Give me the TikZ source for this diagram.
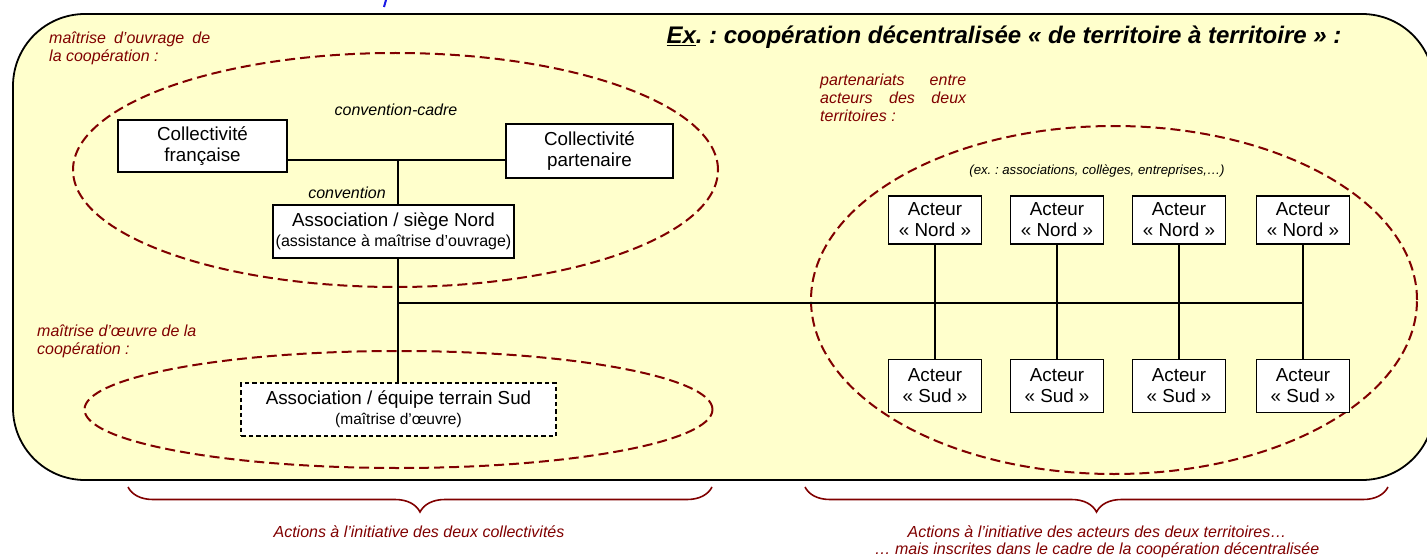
\documentclass[tikz,border=0pt]{standalone}
\usepackage{fontspec}
\setmainfont{Liberation Sans}
\frenchspacing
\usetikzlibrary{decorations.pathreplacing,shapes.geometric}
\definecolor{bgyellow}{HTML}{FFFFCC}
\definecolor{darkred}{HTML}{800000}
\definecolor{titleblue}{HTML}{1A1AE6}
\begin{document}
\begin{tikzpicture}[x=1pt,y=-1pt,
  box/.style={draw=black, line width=1.8pt, fill=white, inner sep=0pt, align=center,
    font=\fontsize{18.8}{21}\selectfont},
  actor/.style={box, minimum width=93pt, minimum height=48pt},
  zone/.style={draw=darkred, line width=2pt, dash pattern=on 10pt off 5pt},
  redlabel/.style={text=darkred, font=\fontsize{16}{18}\selectfont\itshape, inner sep=0pt},
  link/.style={draw=black, line width=2pt},
  bracestyle/.style={draw=darkred, line width=1.6pt, decorate,
    decoration={brace, mirror, amplitude=25pt}},
  note/.style={font=\fontsize{16}{18}\itshape\selectfont, inner sep=0pt}]
\useasboundingbox (0,0) rectangle (1427,559);
\clip (0,0) rectangle (1427,559);

% cut-off fragment at top
\draw[titleblue, line width=2pt] (386,0) -- (384,7);

% main frame
\draw[fill=bgyellow, line width=1.8pt, rounded corners=72pt] (13,14) rectangle (1434,480);

% title
\node[font=\fontsize{24}{27}\bfseries\itshape\selectfont, inner sep=0pt] (title) at (1004,37)
  {\underline{Ex}. : coopération décentralisée « de territoire à territoire » :};

% zones
\node[zone, ellipse, minimum width=645pt, minimum height=234pt, inner sep=0pt] (zoneA) at (395.5,170) {};
\node[zone, ellipse, minimum width=628pt, minimum height=117pt, inner sep=0pt] (zoneB) at (398.5,409.5) {};
\node[zone, ellipse, minimum width=606pt, minimum height=348pt, inner sep=0pt] (zoneC) at (1114,300) {};

% zone labels
\node[redlabel, anchor=north west, align=left] (labA) at (49,32)
  {\makebox[161pt][s]{maîtrise d’ouvrage de}\\la coopération :};
\node[redlabel, anchor=north west, align=left] (labB) at (37,325)
  {maîtrise d’œuvre de la\\coopération :};
\node[redlabel, anchor=north west, align=left] (labC) at (820,74)
  {\makebox[146pt][s]{partenariats entre}\\\makebox[146pt][s]{acteurs des deux}\\territoires :};

% boxes
\node[box, minimum width=169pt, minimum height=52pt] (cf) at (202.5,146) {Collectivité\\française};
\node[box, minimum width=167pt, minimum height=54pt] (cp) at (589.5,151) {Collectivité\\partenaire};
\node[box, minimum width=241pt, minimum height=53pt] (nord) at (393.5,231.5)
  {Association / siège Nord\\[-1pt]{\fontsize{16}{18}\selectfont (assistance à maîtrise d’ouvrage)}};
\node[box, dash pattern=on 4.5pt off 3pt, minimum width=315pt, minimum height=53pt] (sud) at (398.5,409.5)
  {Association / équipe terrain Sud\\[-1pt]{\fontsize{15.5}{18}\selectfont (maîtrise d’œuvre)}};

% labels on links
\node[note] (lcc) at (396,110) {convention-cadre};
\node[note] (lc) at (347,193) {convention};
\node[font=\fontsize{13.2}{15}\itshape\selectfont, inner sep=0pt] (lex) at (1097,171)
  {(ex. : associations, collèges, entreprises,…)};

% actors
\foreach \i/\x in {1/935,2/1057,3/1179,4/1303}{
  \node[actor] (n\i) at (\x,220) {Acteur\\« Nord »};
  \node[actor, minimum height=53pt] (s\i) at (\x,386) {Acteur\\« Sud »};
  \draw[link] (n\i) -- (s\i);
}

% connectors
\coordinate (jc) at (398,160);
\coordinate (jh) at (398,303);
\draw[link] (cf.east |- jc) -- (cp.west |- jc);
\draw[link] (jc) -- (jc |- nord.north);
\draw[link] (jc |- nord.south) -- (jc |- sud.north);
\draw[link] (jh) -- (n4.south |- jh);

% braces
\coordinate (b1a) at (128,487);
\coordinate (b1b) at (712,487);
\coordinate (b2a) at (805,487);
\coordinate (b2b) at (1388,487);
\draw[bracestyle] (b1a) -- (b1b);
\draw[bracestyle] (b2a) -- (b2b);

\node[redlabel, font=\fontsize{16}{17}\itshape\selectfont] (bl1) at (419,532)
  {Actions à l’initiative des deux collectivités};
\node[redlabel, font=\fontsize{16}{17}\itshape\selectfont, align=center] (bl2) at (1097,541.5)
  {Actions à l’initiative des acteurs des deux territoires…\\… mais inscrites dans le cadre de la coopération décentralisée};
\end{tikzpicture}
\end{document}
